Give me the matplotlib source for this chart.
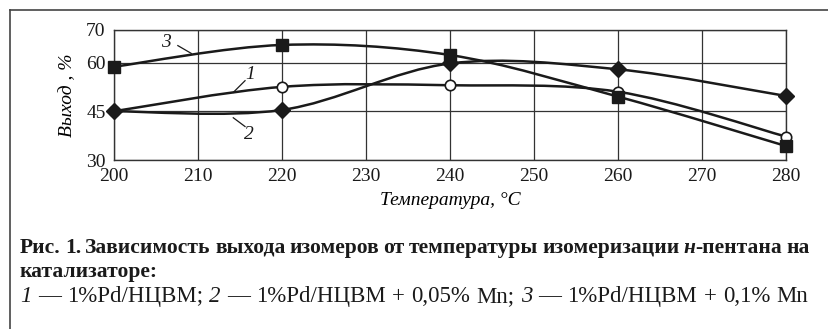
import numpy as np
import matplotlib
matplotlib.use("Agg")
import matplotlib.pyplot as plt
from matplotlib.path import Path
from matplotlib.patches import PathPatch
from matplotlib.lines import Line2D

plt.rcParams["font.family"] = ["Liberation Serif", "DejaVu Serif"]

temps = [200, 220, 240, 260, 280]
yield_1 = [45.0, 52.5, 53.0, 51.0, 37.2]   # 1%Pd/НЦВМ
yield_2 = [45.0, 45.4, 59.7, 57.9, 49.7]   # + 0,05% Mn
yield_3 = [58.7, 65.4, 62.3, 49.5, 34.3]   # + 0,1% Mn
x_ticks = [200, 210, 220, 230, 240, 250, 260, 270, 280]
y_ticks = [30, 45, 60, 70]

ink = "#1a1a1a"


def smooth_path(xs, ys):
    # catmull-rom through the points, drawn as cubic bezier segments
    p = np.column_stack([xs, ys]).astype(float)
    ext = np.vstack([p[0], p, p[-1]])
    verts = [p[0]]
    codes = [Path.MOVETO]
    for i in range(1, len(ext) - 2):
        p0, p1, p2, p3 = ext[i - 1], ext[i], ext[i + 1], ext[i + 2]
        verts += [p1 + (p2 - p0) / 6, p2 - (p3 - p1) / 6, p2]
        codes += [Path.CURVE4] * 3
    return Path(verts, codes)


fig = plt.figure(figsize=(8.29, 3.29), dpi=100)
ax = fig.add_axes([114 / 829, 1 - 160 / 329, 672 / 829, 130 / 329])

for ys in (yield_1, yield_2, yield_3):
    ax.add_patch(PathPatch(smooth_path(temps, ys), fill=False, lw=1.8,
                           edgecolor=ink, zorder=3, capstyle="round"))

ax.plot(temps, yield_1, "o", ms=7.5, mfc="white", mec=ink, mew=1.2,
        ls="none", zorder=4, clip_on=False)
ax.plot(temps, yield_2, "D", ms=8.5, mfc=ink, mec=ink, ls="none",
        zorder=5, clip_on=False)
ax.plot(temps, yield_3, "s", ms=8.5, mfc=ink, mec=ink, ls="none",
        zorder=6, clip_on=False)

ax.set_xlim(200, 280)
ax.set_ylim(30, 70)
ax.set_xticks(x_ticks)
ax.set_yticks(y_ticks)
ax.tick_params(length=0, labelsize=14, colors=ink, pad=6)
ax.grid(True, color="#333333", lw=0.9)
ax.set_axisbelow(True)
for s in ax.spines.values():
    s.set_color("#333333")
    s.set_linewidth(1.0)

ax.set_xlabel("Температура, °С", fontsize=14, style="italic", labelpad=5)
ax.set_ylabel("Выход , %", fontsize=14, style="italic", labelpad=7)

# curve numbers with leader lines
for num, txt_xy, a, b in [("3", (206.2, 66.3), (207.6, 65.2), (209.2, 62.8)),
                          ("1", (216.2, 56.3), (215.6, 54.4), (214.2, 50.8)),
                          ("2", (216.0, 38.0), (215.6, 40.3), (214.2, 43.0))]:
    ax.text(*txt_xy, num, fontsize=14, style="italic", ha="center",
            va="center", color=ink, zorder=7)
    ax.plot([a[0], b[0]], [a[1], b[1]], color=ink, lw=0.9, zorder=7)

# frame around figure (top and left only)
fig.add_artist(Line2D([10 / 829, 1], [1 - 10 / 329] * 2, color="#444444", lw=1.2))
fig.add_artist(Line2D([10 / 829] * 2, [0, 1 - 10 / 329], color="#444444", lw=1.2))

renderer = fig.canvas.get_renderer()


def rich(x_px, y_px, words, size, width=None):
    # words: (text, style, space_after); justified to width if given
    arts = []
    for text, kw, _ in words:
        t = fig.text(0, 0, text, fontsize=size, va="baseline", color=ink, **kw)
        arts.append((t, t.get_window_extent(renderer).width))
    space = size * 100 / 72 * 0.25
    gaps = sum(1 for w in words[:-1] if w[2])
    if width is not None and gaps:
        space = (width - sum(w for _, w in arts)) / gaps
    x = x_px
    for (t, w), (_, _, sp) in zip(arts, words):
        t.set_position((x / 829, 1 - y_px / 329))
        x += w + (space if sp else 0)


def split(text, kw, last_space=True):
    ws = text.split()
    return [(w, kw, i < len(ws) - 1 or last_space) for i, w in enumerate(ws)]


bold = {"weight": "bold"}
plain = {}
ital = {"style": "italic"}
line1 = (split("Рис. 1. Зависимость выхода изомеров от температуры изомеризации", bold)
         + [("н", {"weight": "bold", "style": "italic"}, False)]
         + split("-пентана на", bold))
rich(20, 253, line1, 15.5, width=790)
rich(20, 277, split("катализаторе:", bold), 15.5)
line3 = ([("1", ital, True)] + split("— 1%Pd/НЦВМ;", plain)
         + [("2", ital, True)] + split("— 1%Pd/НЦВМ + 0,05% Mn;", plain)
         + [("3", ital, True)] + split("— 1%Pd/НЦВМ + 0,1% Mn", plain, False))
rich(20, 302, line3, 16.5, width=788)

fig.savefig("out.png", dpi=100)
